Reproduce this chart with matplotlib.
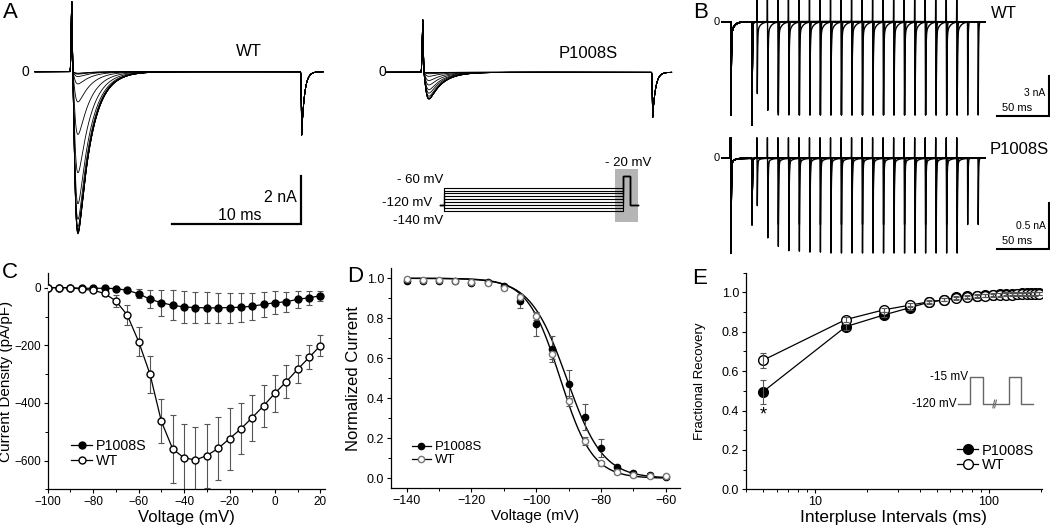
import numpy as np
import matplotlib
matplotlib.use('Agg')
import matplotlib.pyplot as plt
from matplotlib.patches import Rectangle
from matplotlib.ticker import MultipleLocator, FixedLocator, FuncFormatter, FormatStrFormatter, NullFormatter

plt.rcParams['font.family'] = ['Liberation Sans', 'DejaVu Sans']
plt.rcParams['axes.linewidth'] = 0.9

# ---------------- data ----------------
# C: current density vs voltage
iv_volt = [-100, -95, -90, -85, -80, -75, -70, -65, -60, -55, -50, -45, -40,
           -35, -30, -25, -20, -15, -10, -5, 0, 5, 10, 15, 20]
iv_wt = [0, 0, 0, -5, -9, -20, -46, -95, -187, -300, -464, -560, -591,
         -598, -583, -558, -524, -490, -451, -410, -366, -326, -283, -242, -201]
iv_wt_err = [2, 2, 2, 3, 4, 8, 20, 35, 50, 64, 76, 117, 117,
             114, 111, 109, 108, 88, 80, 72, 64, 56, 48, 42, 36]
iv_mut = [0, 0, 0, -2, -2, -2, -3, -9, -21, -40, -52, -61, -67,
          -69, -70, -70, -69, -68, -64, -58, -52, -49, -40, -35, -28]
iv_mut_err = [1, 1, 1, 2, 2, 3, 4, 6, 16, 32, 45, 52, 54,
              54, 54, 53, 52, 50, 47, 44, 40, 35, 30, 24, 18]

# D: steady-state inactivation
ssi_volt = [-140, -135, -130, -125, -120, -115, -110, -105, -100, -95, -90,
            -85, -80, -75, -70, -65, -60]
ssi_mut = [0.985, 0.985, 0.985, 0.985, 0.975, 0.98, 0.96, 0.885, 0.77, 0.645,
           0.47, 0.305, 0.15, 0.055, 0.025, 0.015, 0.005]
ssi_mut_err = [0.01, 0.01, 0.01, 0.01, 0.01, 0.01, 0.01, 0.035, 0.06, 0.065,
               0.07, 0.065, 0.045, 0.012, 0.01, 0.01, 0.01]
ssi_wt = [0.995, 0.99, 0.99, 0.985, 0.98, 0.975, 0.95, 0.905, 0.81, 0.62,
          0.385, 0.185, 0.075, 0.03, 0.015, 0.01, 0.01]
ssi_wt_err = [0.008, 0.008, 0.008, 0.008, 0.008, 0.008, 0.008, 0.01, 0.02, 0.025,
              0.025, 0.02, 0.012, 0.008, 0.008, 0.008, 0.008]
# Boltzmann fit parameters (V1/2, slope)
fit_wt = (-92.6, 5.0)
fit_mut = (-90.6, 5.6)

# E: recovery from inactivation
intervals = [5, 15, 25, 35, 45, 55, 65, 75, 85, 95, 105, 115, 125, 135, 145,
             155, 165, 175, 185, 195]
rec_wt = [0.655, 0.862, 0.912, 0.935, 0.952, 0.962, 0.970, 0.976, 0.980, 0.983,
          0.985, 0.987, 0.988, 0.989, 0.990, 0.991, 0.991, 0.992, 0.992, 0.993]
rec_wt_err = [0.037, 0.012, 0.01, 0.01, 0.008, 0.008, 0.008, 0.008, 0.008, 0.008,
              0.008, 0.008, 0.008, 0.008, 0.008, 0.008, 0.008, 0.008, 0.008, 0.008]
rec_mut = [0.495, 0.826, 0.886, 0.922, 0.950, 0.962, 0.975, 0.980, 0.983, 0.985,
           0.988, 0.991, 0.993, 0.994, 0.994, 0.995, 0.995, 0.995, 0.996, 0.996]
rec_mut_err = [0.062, 0.015, 0.012, 0.01, 0.008, 0.008, 0.008, 0.008, 0.008, 0.008,
               0.008, 0.008, 0.008, 0.008, 0.008, 0.008, 0.008, 0.008, 0.008, 0.008]

# A: current families (peak nA, capacitive spike nA, end tail nA), sweeps scaled by D values
a_wt = dict(peak=6.75, cap=2.9, tail=2.62)
a_mut = dict(peak=1.12, cap=2.17, tail=1.86)
a_test_end = 17.83  # ms
# A: voltage protocol
prot_levels = [-140, -130, -120, -110, -100, -90, -80, -70, -60]
prot_test = -20
prot_hold = -120
prot_t = [-12, 0, 500, 520, 540]  # ms

# B: paired-pulse recordings (relative test peak per sweep)
b_rec_wt = [0.77, 0.95, 0.975, 0.985, 1.0, 1.0, 1.0, 1.0, 1.0, 1.0,
            1.0, 1.0, 1.0, 1.0, 1.0, 1.0, 1.0, 1.0, 1.0, 1.0]
b_rec_mut = [0.50, 0.84, 0.93, 0.975, 0.98, 0.99, 0.99, 1.0, 1.0, 1.0,
             1.0, 1.0, 1.0, 1.0, 1.0, 1.0, 1.0, 1.0, 1.0, 1.0]
b_wt = dict(ref=7.0, p1_tail=7.75, tail=7.0, up=2.0, p1_up=0.0, hook=0.13)
b_mut = dict(ref=1.03, p1_tail=0.72, tail=0.72, up=0.224, p1_up=0.224, hook=0.05)
b_pulse = 20  # ms

# E inset protocol
inset_t = [0, 20, 20, 41, 41, 85, 85, 105, 105, 125]
inset_v = [-120, -120, -15, -15, -120, -120, -15, -15, -120, -120]

# ---------------- figure ----------------
W, H = 1050, 530
fig = plt.figure(figsize=(W / 100, H / 100), dpi=100)


def px_axes(x0, y0, x1, y1):
    return fig.add_axes([x0 / W, 1 - y1 / H, (x1 - x0) / W, (y1 - y0) / H])


def trace_axes(x0, y0, x1, y1, ox, oy, sx, sy):
    # data (0,0) sits at pixel (ox, oy); sx, sy pixels per unit
    ax = px_axes(x0, y0, x1, y1)
    ax.set_xlim((x0 - ox) / sx, (x1 - ox) / sx)
    ax.set_ylim((oy - y1) / sy, (oy - y0) / sy)
    ax.axis('off')
    return ax


def px_text(x, y, s, **kw):
    kw.setdefault('va', 'center')
    fig.text(x / W, 1 - y / H, s, **kw)


# ---- A: current families ----
tau_m, tau_h = 0.15, 1.0
tg = np.arange(0, 10, 0.001)
na_norm = ((1 - np.exp(-tg / tau_m)) ** 3 * np.exp(-tg / tau_h)).max()


def a_trace(t, amp, p):
    spike = p['cap'] * np.exp(-(t / 0.06) ** 2)
    ts = np.clip(t - 0.03, 0, None)
    na = (1 - np.exp(-ts / tau_m)) ** 3 * np.exp(-ts / tau_h) / na_norm
    d = t - a_test_end
    tl = np.where(d < 0, np.exp(-(np.minimum(d, 0) / 0.04) ** 2),
                  np.exp(-np.maximum(d, 0) / 0.22))
    return spike - amp * na - p['tail'] * tl


axA1 = trace_axes(20, 0, 335, 245, 71.7, 71.7, 12.9, 24.15)
ta = np.arange(-2.85, 19.5, 0.005)
for v in ssi_wt:
    axA1.plot(ta, a_trace(ta, v * a_wt['peak'], a_wt), color='k', lw=0.6)
axA1.plot([7.8, 17.8, 17.8], [-6.31, -6.31, -4.31], color='k', lw=1.6,
          solid_joinstyle='miter')

axA2 = trace_axes(370, 0, 680, 245, 422.7, 72.3, 12.9, 24.15)
ta2 = np.arange(-2.8, 19.3, 0.005)
for v in ssi_mut:
    axA2.plot(ta2, a_trace(ta2, v * a_mut['peak'], a_mut), color='k', lw=0.6)

px_text(25, 72, '0', ha='center', fontsize=10)
px_text(249, 52, 'WT', ha='center', fontsize=12)
px_text(382, 72, '0', ha='center', fontsize=10)
px_text(588, 53, 'P1008S', ha='center', fontsize=12)
px_text(297, 198, '2 nA', ha='right', fontsize=11.5)
px_text(240, 216, '10 ms', ha='center', fontsize=11.5)

# protocol
axP = trace_axes(370, 150, 680, 235, 444.3, 187.7 - 60 * 0.2875, 0.358, 0.2875)
axP.add_patch(Rectangle((476.8, -178), 63.2, 183, color='#b5b5b5', lw=0, zorder=1))
for lv in prot_levels:
    axP.plot([prot_t[0], prot_t[1], prot_t[1], prot_t[2], prot_t[2], prot_t[3], prot_t[3], prot_t[4]],
             [prot_hold, prot_hold, lv, lv, prot_test, prot_test, prot_hold, prot_hold],
             color='k', lw=0.8, zorder=2)
px_text(443, 180, '- 60 mV', ha='right', fontsize=9.5)
px_text(432, 203, '-120 mV', ha='right', fontsize=9.5)
px_text(443, 221, '-140 mV', ha='right', fontsize=9.5)
px_text(628, 163, '- 20 mV', ha='center', fontsize=9.5)

# ---- B: paired-pulse traces ----


def b_event(t, t0, depth, up, hook):
    d = t - t0
    dn = np.minimum(d, 0)
    dp = np.maximum(d, 0)
    down = np.where(d < 0, np.exp(-(dn / 0.1) ** 2),
                    (1 - hook) * np.exp(-dp / 0.3) + hook * np.exp(-dp / 3.0))
    return up * np.exp(-((d + 0.4) / 0.12) ** 2) - depth * down


tb = np.arange(-8.5, 241.4, 0.02)


def b_panel(ax, rec, p):
    for iv, r in zip(intervals, rec):
        y = b_event(tb, 0, p['ref'], p['p1_up'], p['hook'])
        y += b_event(tb, b_pulse, p['p1_tail'], 0, 0)
        y += b_event(tb, b_pulse + iv, r * p['ref'], p['up'], p['hook'])
        y += b_event(tb, 2 * b_pulse + iv, p['tail'], 0, 0)
        ax.plot(tb, y, color='k', lw=1.0)


axB1 = trace_axes(700, 0, 1050, 128, 731, 21.7, 1.052, 13.33)
b_panel(axB1, b_rec_wt, b_wt)
axB1.plot([252.6, 302.6, 302.6], [-7.07, -7.07, -4.07], color='k', lw=1.5,
          solid_joinstyle='miter')

axB2 = trace_axes(700, 128, 1050, 265, 731, 158.3, 1.052, 92.0)
b_panel(axB2, b_rec_mut, b_mut)
axB2.plot([252.6, 302.6, 302.6], [-0.986, -0.986, -0.486], color='k', lw=1.5,
          solid_joinstyle='miter')

px_text(717, 21.7, '0', ha='center', fontsize=8)
px_text(717, 158.3, '0', ha='center', fontsize=8)
px_text(1004, 13, 'WT', ha='center', fontsize=12)
px_text(1019, 150, 'P1008S', ha='center', fontsize=12)
px_text(1045, 93, '3 nA', ha='right', fontsize=7.5)
px_text(1017, 108, '50 ms', ha='center', fontsize=8)
px_text(1046, 226, '0.5 nA', ha='right', fontsize=7.5)
px_text(1017, 241, '50 ms', ha='center', fontsize=8)

# ---- C, D, E ----
eb = dict(fmt='none', ecolor='#555555', elinewidth=0.8, capsize=2, capthick=0.8)


def style(ax, size=9):
    ax.spines[['top', 'right']].set_visible(False)
    ax.tick_params(which='major', direction='out', length=3, width=0.8, labelsize=size, pad=2)
    ax.tick_params(which='minor', direction='out', length=2, width=0.7)


axC = px_axes(47.7, 273.3, 325, 489.3)
style(axC, 8.5)
axC.errorbar(iv_volt, iv_wt, yerr=iv_wt_err, zorder=2, **eb)
axC.errorbar(iv_volt, iv_mut, yerr=iv_mut_err, zorder=2, **eb)
axC.plot(iv_volt, iv_mut, '-o', color='k', mfc='k', mec='k', ms=5, lw=0.9, zorder=3, label='P1008S')
axC.plot(iv_volt, iv_wt, '-o', color='k', mfc='white', mec='k', ms=5, lw=0.9, zorder=3, label='WT')
axC.set_xlim(-100, 22)
axC.set_ylim(-700, 50)
axC.xaxis.set_major_locator(FixedLocator([-100, -80, -60, -40, -20, 0, 20]))
axC.xaxis.set_minor_locator(MultipleLocator(10))
axC.yaxis.set_major_locator(FixedLocator([0, -200, -400, -600]))
axC.yaxis.set_minor_locator(MultipleLocator(100))
axC.set_xlabel('Voltage (mV)', fontsize=12, labelpad=1)
axC.set_ylabel('Current Density (pA/pF)', fontsize=11)
axC.yaxis.set_label_coords(-0.124, 0.5)
axC.legend(loc='upper left', bbox_to_anchor=(0.06, 0.265), frameon=False, fontsize=10.3,
           handlelength=1.4, handletextpad=0.3, labelspacing=0.05, borderpad=0)

axD = px_axes(391, 268.3, 680, 488.3)
style(axD)
vv = np.linspace(-140, -60, 300)
for vh, k in (fit_mut, fit_wt):
    axD.plot(vv, 1 / (1 + np.exp((vv - vh) / k)), color='k', lw=1.0, zorder=2)
axD.errorbar(ssi_volt, ssi_mut, yerr=ssi_mut_err, zorder=3, **eb)
axD.errorbar(ssi_volt, ssi_wt, yerr=ssi_wt_err, zorder=3, **eb)
axD.plot(ssi_volt, ssi_mut, 'o', mfc='k', mec='k', ms=4.5, zorder=4, label='P1008S')
axD.plot(ssi_volt, ssi_wt, 'o', mfc='white', mec='#777777', ms=4.5, zorder=4, label='WT')
axD.set_xlim(-144.8, -55.6)
axD.set_ylim(-0.05, 1.05)
axD.xaxis.set_major_locator(FixedLocator([-140, -120, -100, -80, -60]))
axD.xaxis.set_minor_locator(MultipleLocator(10))
axD.yaxis.set_major_locator(MultipleLocator(0.2))
axD.yaxis.set_minor_locator(MultipleLocator(0.1))
axD.yaxis.set_major_formatter(FormatStrFormatter('%.1f'))
axD.set_xlabel('Voltage (mV)', fontsize=11, labelpad=1)
axD.set_ylabel('Normalized Current', fontsize=12)
axD.yaxis.set_label_coords(-0.105, 0.5)
hD = [plt.Line2D([], [], color='k', lw=0.9, marker='o', mfc='k', mec='k', ms=4.5),
      plt.Line2D([], [], color='k', lw=0.9, marker='o', mfc='white', mec='#777777', ms=4.5)]
axD.legend(hD, ['P1008S', 'WT'], loc='upper left', bbox_to_anchor=(0.05, 0.245), frameon=False,
           fontsize=9.5, handlelength=1.4, handletextpad=0.3, labelspacing=0.05, borderpad=0)

axE = px_axes(746, 272.7, 1041.7, 489.3)
style(axE)
axE.set_xscale('log')
axE.plot(intervals, rec_mut, '-o', color='k', mfc='k', mec='k', ms=7, lw=0.9, zorder=2, label='P1008S')
axE.plot(intervals, rec_wt, '-o', color='k', mfc='white', mec='k', ms=7, lw=0.9, zorder=2, label='WT')
axE.errorbar(intervals, rec_mut, yerr=rec_mut_err, zorder=3, **eb)
axE.errorbar(intervals, rec_wt, yerr=rec_wt_err, zorder=3, **eb)
axE.set_xlim(4, 201)
axE.set_ylim(0, 1.1)
axE.xaxis.set_major_locator(FixedLocator([10, 100]))
axE.xaxis.set_major_formatter(FuncFormatter(lambda v, p: f'{v:g}'))
axE.xaxis.set_minor_locator(FixedLocator([4, 5, 6, 7, 8, 9, 20, 30, 40, 50, 60, 70, 80, 90, 200]))
axE.xaxis.set_minor_formatter(NullFormatter())
axE.yaxis.set_major_locator(MultipleLocator(0.2))
axE.yaxis.set_minor_locator(MultipleLocator(0.1))
axE.yaxis.set_major_formatter(FormatStrFormatter('%.1f'))
axE.set_xlabel('Interpluse Intervals (ms)', fontsize=12.5, labelpad=1)
axE.set_ylabel('Fractional Recovery', fontsize=9.5)
axE.yaxis.set_label_coords(-0.135, 0.5)
axE.text(5, 0.375, '*', ha='center', va='center', fontsize=13)
axE.legend(loc='upper left', bbox_to_anchor=(0.69, 0.245), frameon=False, fontsize=10.5,
           handlelength=1.4, handletextpad=0.3, labelspacing=0.05, borderpad=0)

# E inset protocol
axI = trace_axes(900, 360, 1045, 420, 958, 404 - 120 * 0.26, 0.6, 0.26)
axI.plot(inset_t, inset_v, color='#666666', lw=1.0)
for bx in (59.5, 62.5):
    axI.plot([bx - 1.5, bx + 1.5], [-135, -105], color='#666666', lw=0.8)
px_text(968, 377, '-15 mV', ha='right', fontsize=8.5)
px_text(957, 404, '-120 mV', ha='right', fontsize=8.5)

# panel letters
for x, y, s in [(3, 13, 'A'), (693, 13, 'B'), (2, 272, 'C'), (347, 276, 'D'), (692, 279, 'E')]:
    px_text(x, y, s, ha='left', fontsize=16)

fig.savefig('out.png', dpi=100)
